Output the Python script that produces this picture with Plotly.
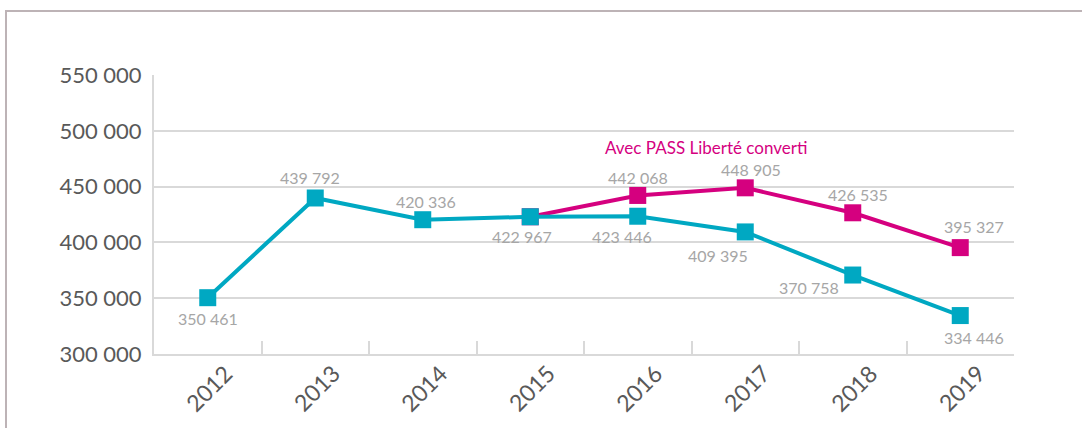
import plotly.graph_objects as go

years = ["2012", "2013", "2014", "2015", "2016", "2017", "2018", "2019"]
base_values = [350461, 439792, 420336, 422967, 423446, 409395, 370758, 334446]
pass_years = ["2015", "2016", "2017", "2018", "2019"]
pass_values = [422967, 442068, 448905, 426535, 395327]
pass_label = "Avec PASS Liberté converti"
y_ticks = [300000, 350000, 400000, 450000, 500000, 550000]

TEAL = "#00a8c2"
MAGENTA = "#d5007f"
GRID = "#d9d9d9"
LABEL = "#a6a6a6"
AXIS_TXT = "#595959"
FONT = "Lato"

# label offsets in pixels (dx, dy) - styling only
base_offsets = [(0, -21), (-5, 20), (3, 18), (-8, -20), (-16, -20), (-27, -24), (-44, -12), (14, -22)]
pass_offsets = [None, (0, 18), (6, 18), (5, 18), (14, 21)]

def fmt(v):
    return f"{v:,}".replace(",", " ")

fig = go.Figure()
fig.add_trace(go.Scatter(
    x=pass_years, y=pass_values, mode="lines+markers",
    line=dict(color=MAGENTA, width=4),
    marker=dict(symbol="square", size=17, color=MAGENTA, opacity=1, line=dict(width=0)),
    hoverinfo="skip", showlegend=False,
))
fig.add_trace(go.Scatter(
    x=years, y=base_values, mode="lines+markers",
    line=dict(color=TEAL, width=4),
    marker=dict(symbol="square", size=17, color=TEAL, opacity=1, line=dict(width=0)),
    hoverinfo="skip", showlegend=False,
))

annotations = []
for x, v, (dx, dy) in zip(years, base_values, base_offsets):
    annotations.append(dict(x=years.index(x), y=v, xref="x", yref="y", text=fmt(v),
                            showarrow=False, xshift=dx, yshift=dy,
                            font=dict(family=FONT, size=16, color=LABEL)))
for x, v, off in zip(pass_years, pass_values, pass_offsets):
    if off is None:
        continue
    dx, dy = off
    annotations.append(dict(x=years.index(x), y=v, xref="x", yref="y", text=fmt(v),
                            showarrow=False, xshift=dx, yshift=dy,
                            font=dict(family=FONT, size=16, color=LABEL)))
annotations.append(dict(x=years.index("2017"), y=pass_values[2], xref="x", yref="y",
                        text=pass_label, showarrow=False,
                        xshift=-39, yshift=40, font=dict(family=FONT, size=17, color=MAGENTA)))
# rotated year labels (category axis tick labels)
for i, yr in enumerate(years):
    annotations.append(dict(x=i, y=0, xref="x", yref="paper", text=yr, showarrow=False,
                            xanchor="center", yanchor="middle",
                            textangle=-45, yshift=-34, xshift=1,
                            font=dict(family=FONT, size=23, color=AXIS_TXT)))

fig.update_layout(
    width=1082, height=428,
    margin=dict(l=154, r=68, t=75, b=74),
    paper_bgcolor="white", plot_bgcolor="white",
    separators=", ",
    annotations=annotations,
    shapes=[dict(type="rect", xref="paper", yref="paper",
                 x0=(6 - 154) / 860, x1=1.2, y0=-0.6, y1=(354 - 11) / 279,
                 line=dict(color="#bdb3b6", width=2), layer="below")],
    xaxis=dict(
        type="category", categoryorder="array", categoryarray=years,
        range=[-0.5, len(years) - 0.5],
        tickson="boundaries", ticks="inside", ticklen=13, tickcolor=GRID, tickwidth=2,
        showline=True, linecolor=GRID, linewidth=2, showgrid=False,
        showticklabels=False,
        fixedrange=True,
    ),
    yaxis=dict(
        range=[300000, 550000], tickvals=y_ticks, tickformat=",",
        showline=True, linecolor=GRID, linewidth=2,
        showgrid=True, gridcolor=GRID, gridwidth=2, zeroline=False,
        ticks="", ticklabelstandoff=6,
        tickfont=dict(family=FONT, size=22, color=AXIS_TXT),
        fixedrange=True,
    ),
)

fig.write_html("out.html", config={"displayModeBar": False},
               post_script="document.body.style.margin='0';document.body.style.overflow='hidden';")
